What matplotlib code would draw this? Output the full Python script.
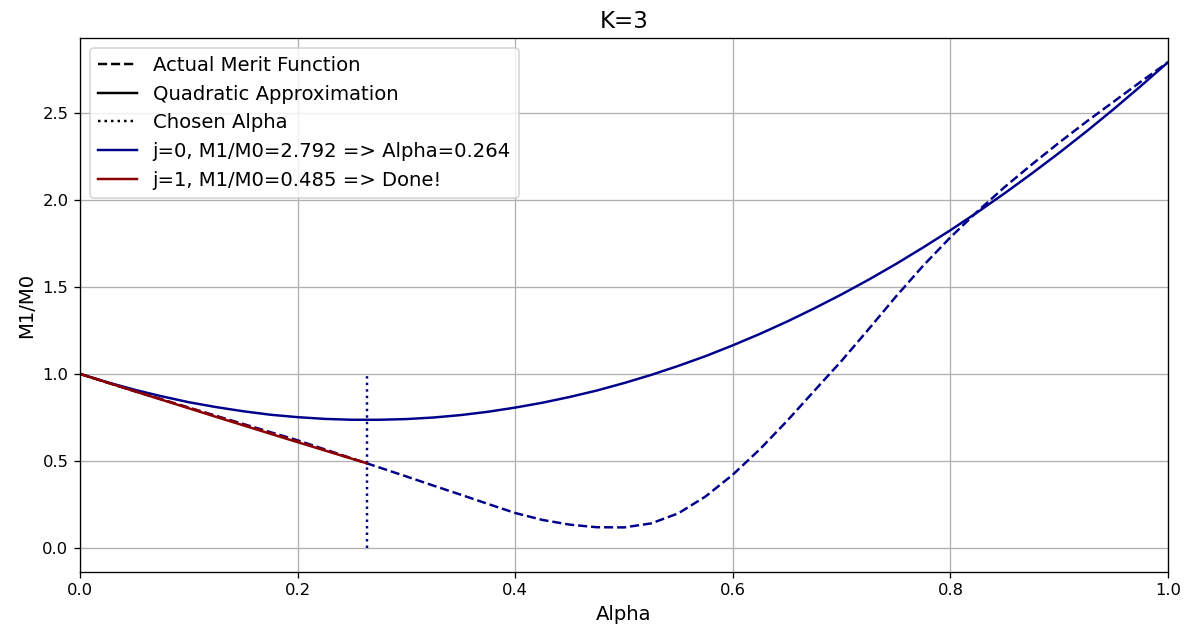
import matplotlib
matplotlib.use("Agg")
import matplotlib.pyplot as plt
from matplotlib.lines import Line2D

# Alpha grid for j=0 curves
alpha0 = [0.0, 0.025, 0.05, 0.075, 0.1, 0.125, 0.15, 0.175, 0.2, 0.225,
          0.25, 0.275, 0.3, 0.325, 0.35, 0.375, 0.4, 0.425, 0.45, 0.475,
          0.5, 0.525, 0.55, 0.575, 0.6, 0.625, 0.65, 0.675, 0.7, 0.725,
          0.75, 0.775, 0.8, 0.825, 0.85, 0.875, 0.9, 0.925, 0.95, 0.975, 1.0]
# Actual merit function (j=0)
merit0 = [1.000, 0.950, 0.901, 0.853, 0.806, 0.759, 0.712, 0.665, 0.618, 0.566,
          0.514, 0.462, 0.410, 0.357, 0.305, 0.252, 0.200, 0.160, 0.133, 0.118,
          0.117, 0.140, 0.198, 0.295, 0.420, 0.567, 0.730, 0.903, 1.075, 1.258,
          1.445, 1.622, 1.785, 1.935, 2.075, 2.205, 2.330, 2.450, 2.565, 2.680, 2.792]
# Quadratic approximation (j=0)
quad0 = [1.000, 0.952, 0.909, 0.871, 0.837, 0.809, 0.785, 0.765, 0.751, 0.741,
         0.736, 0.736, 0.740, 0.749, 0.763, 0.782, 0.806, 0.834, 0.867, 0.904,
         0.947, 0.994, 1.046, 1.102, 1.164, 1.230, 1.301, 1.377, 1.457, 1.542,
         1.632, 1.727, 1.826, 1.930, 2.039, 2.153, 2.271, 2.394, 2.522, 2.655, 2.792]

# j=1 curves (alpha in [0, 0.264])
alpha1 = [0.0, 0.033, 0.066, 0.099, 0.132, 0.165, 0.198, 0.231, 0.264]
merit1 = [1.000, 0.935, 0.871, 0.807, 0.743, 0.679, 0.616, 0.550, 0.485]
quad1 = [1.000, 0.934, 0.869, 0.804, 0.739, 0.675, 0.611, 0.548, 0.485]

chosen_alpha = 0.264
labels = ["j=0, M1/M0=2.792 => Alpha=0.264", "j=1, M1/M0=0.485 => Done!"]
blue = "#00008B"
red = "#8B0000"

DPI = 118
fig = plt.figure(figsize=(1190 / DPI, 632 / DPI), dpi=DPI)
ax = fig.add_axes([0.0672, 0.0949, 0.9143, 0.845])

ax.plot(alpha0, merit0, "--", color=blue, lw=1.5)
ax.plot(alpha0, quad0, "-", color=blue, lw=1.5)
ax.plot([chosen_alpha, chosen_alpha], [0, 1], ":", color=blue, lw=1.5)
ax.plot(alpha1, merit1, "--", color=red, lw=1.5)
ax.plot(alpha1, quad1, "-", color=red, lw=1.5)

ax.set_xlim(0, 1)
ax.grid(True)
ax.set_title("K=3", fontsize=14)
ax.set_xlabel("Alpha", fontsize=12)
ax.set_ylabel("M1/M0", fontsize=12)

handles = [Line2D([], [], color="black", ls="--"),
           Line2D([], [], color="black", ls="-"),
           Line2D([], [], color="black", ls=":"),
           Line2D([], [], color=blue, ls="-"),
           Line2D([], [], color=red, ls="-")]
names = ["Actual Merit Function", "Quadratic Approximation", "Chosen Alpha"] + labels
ax.legend(handles, names, loc="upper left", fontsize=12)

fig.savefig("out.png", dpi=DPI)
